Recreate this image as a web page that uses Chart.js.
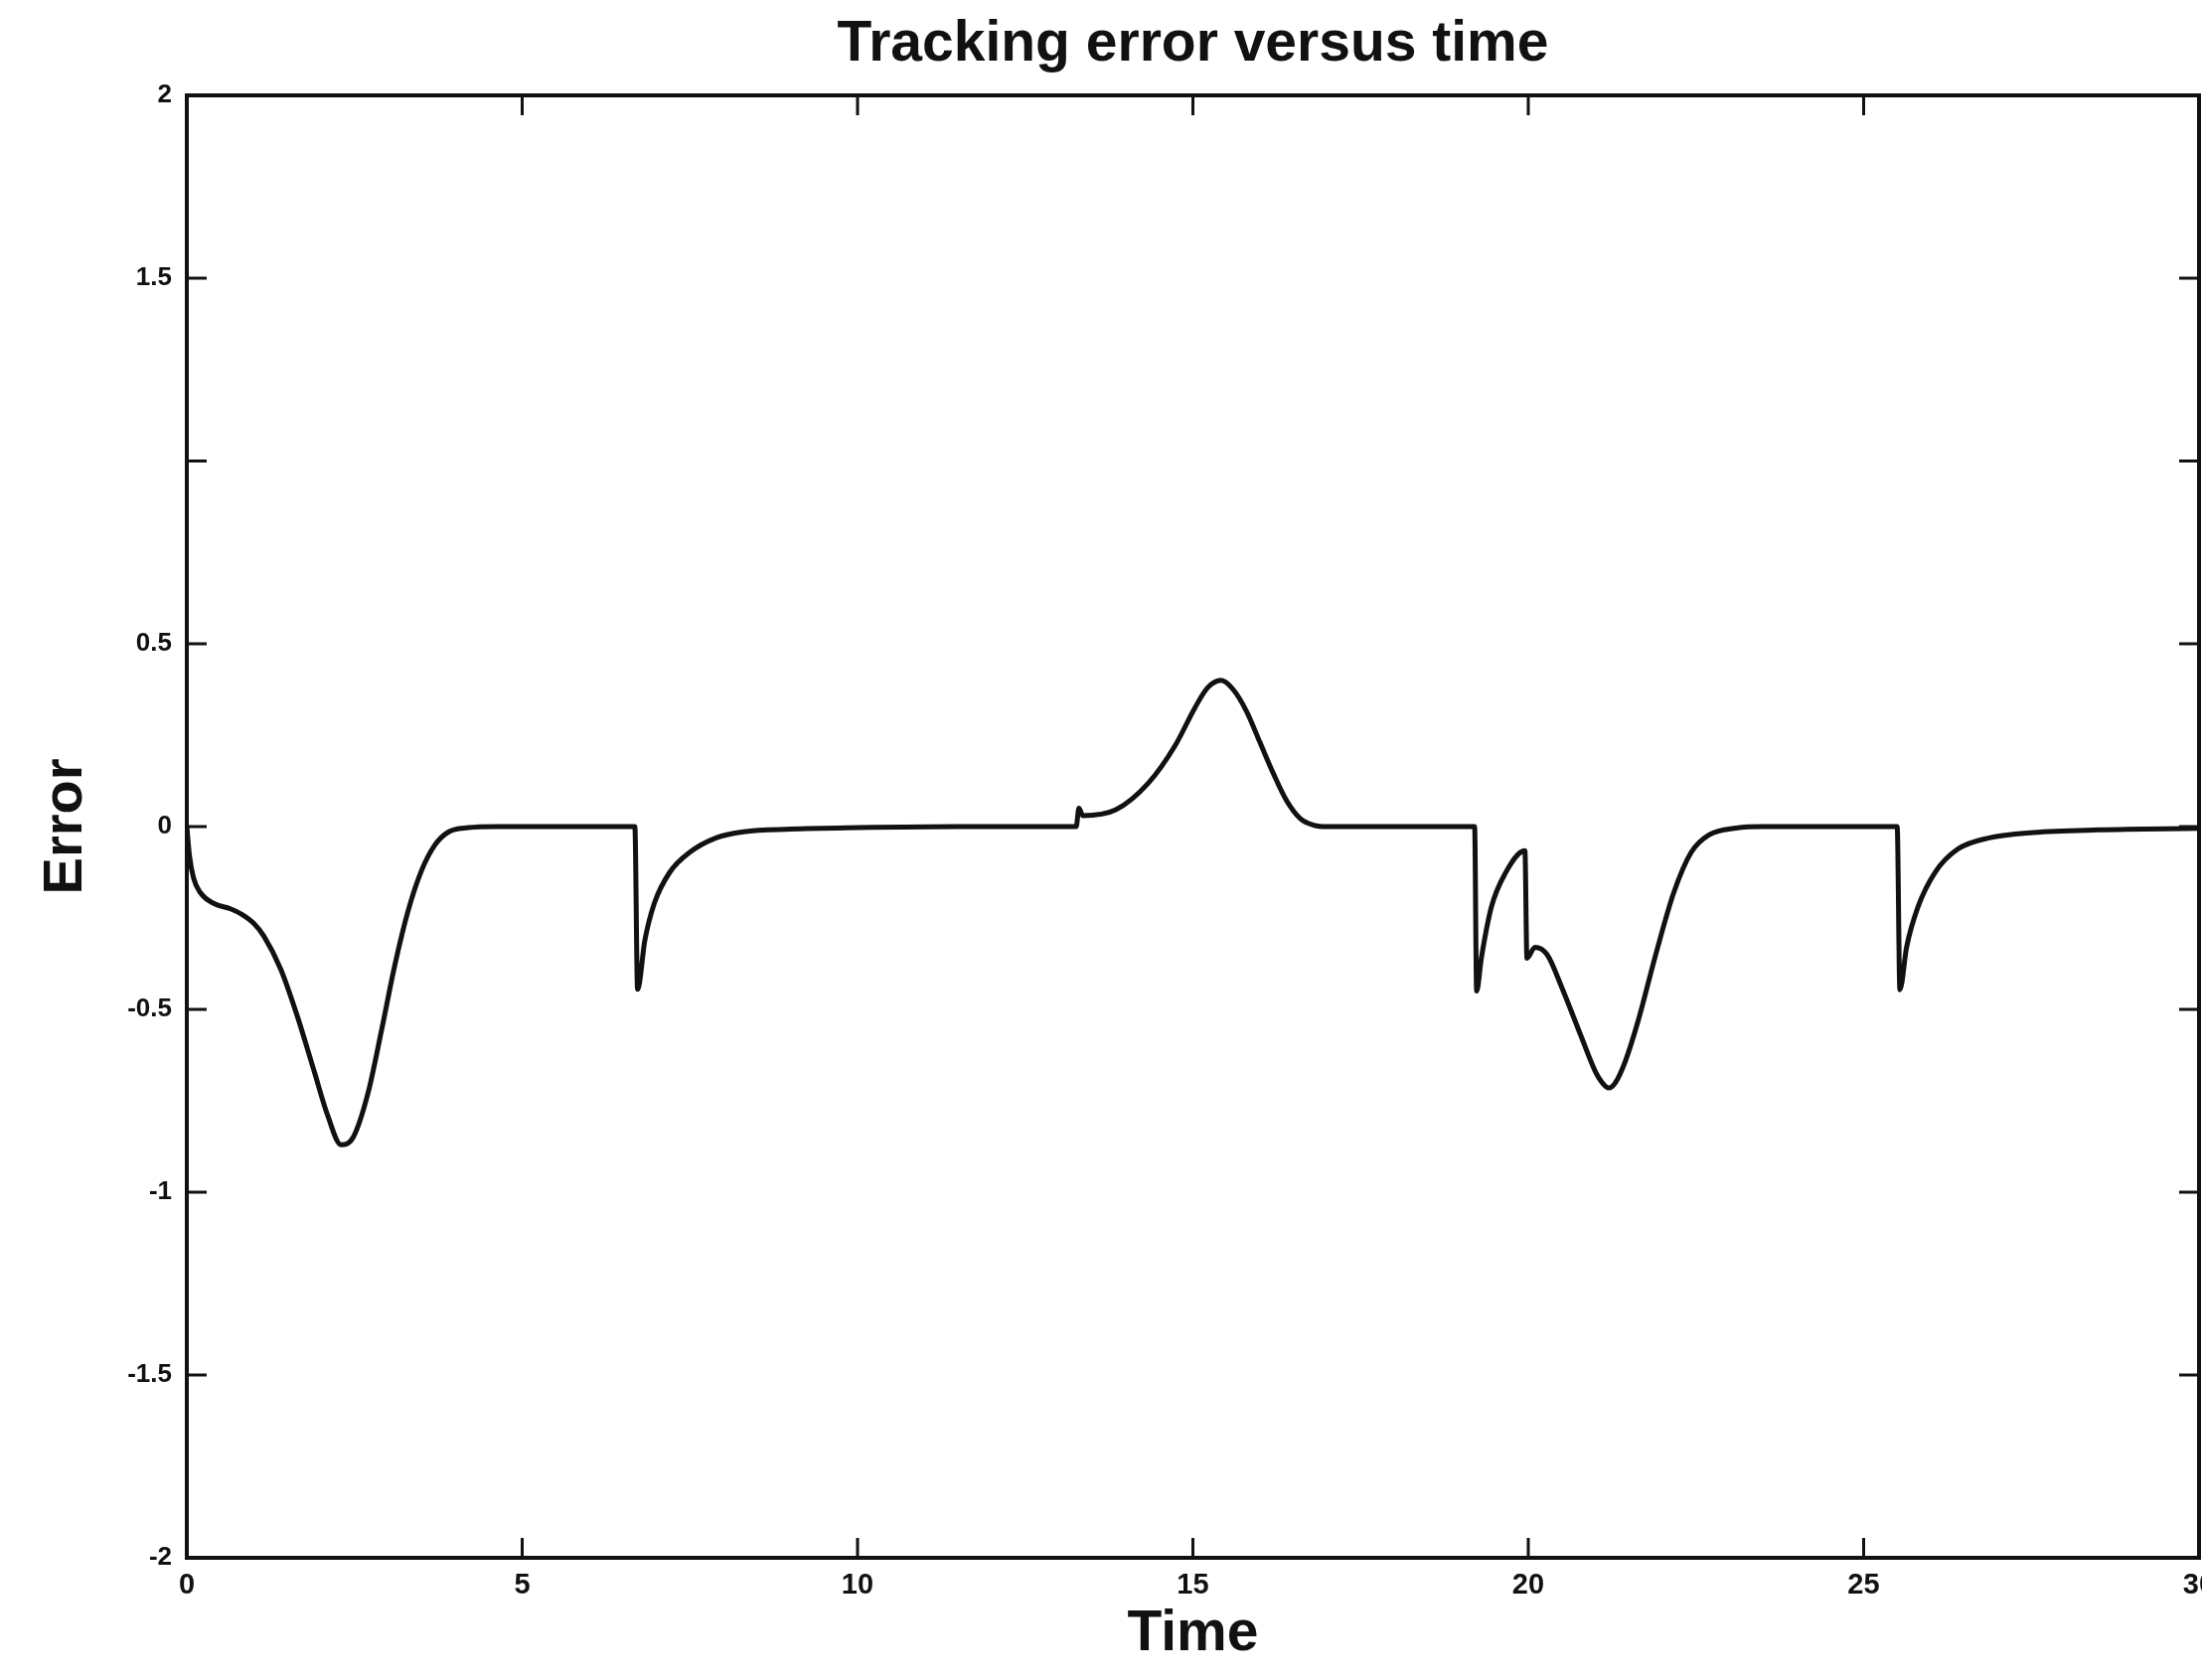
<!DOCTYPE html>
<html>
<head>
<meta charset="utf-8">
<title>Tracking error versus time</title>
<script src="https://cdn.jsdelivr.net/npm/chart.js@4.4.0/dist/chart.umd.min.js"></script>
<style>
  html, body { margin: 0; padding: 0; background: #fff; }
  #chartWrap { width: 2216px; height: 1691px; }
</style>
</head>
<body>
<div id="chartWrap"><canvas id="errorChart" width="2216" height="1691"></canvas></div>
<script>
// Tracking error data
const timeValues = [
    0, 0.04, 0.1, 0.2, 0.4, 0.65, 0.82, 1.0, 1.15, 1.4, 1.65, 1.9, 2.1, 2.3, 2.48, 2.7, 2.9, 3.1, 3.3, 3.5, 3.7, 3.9, 4.2, 4.6,
    6.68, 6.72, 6.83, 6.97, 7.2, 7.5, 7.9, 8.3, 9.0, 10.0, 11.5,
    13.26, 13.3, 13.36, 13.85, 14.34, 14.73, 15.03, 15.22, 15.42, 15.6, 15.8, 16.0, 16.2, 16.4, 16.6, 16.8, 17.0,
    19.2, 19.23, 19.3, 19.45, 19.65, 19.95, 19.98, 20.1, 20.28, 20.5, 20.78, 21.0, 21.1, 21.2, 21.3, 21.45, 21.64, 21.9, 22.17, 22.43, 22.7, 23.1, 23.5,
    25.5, 25.54, 25.64, 25.81, 26.07, 26.4, 26.87, 27.53, 28.5, 30
];
const errorValues = [
    0, -0.08, -0.14, -0.18, -0.21, -0.225, -0.24, -0.265, -0.30, -0.39, -0.52, -0.67, -0.79, -0.87, -0.85, -0.73, -0.56, -0.38, -0.23, -0.12, -0.05, -0.015, -0.003, 0,
    0, -0.445, -0.31, -0.21, -0.125, -0.07, -0.03, -0.014, -0.007, -0.003, 0,
    0, 0.05, 0.03, 0.046, 0.12, 0.22, 0.325, 0.38, 0.40, 0.375, 0.315, 0.23, 0.145, 0.07, 0.022, 0.004, 0,
    0, -0.45, -0.36, -0.22, -0.13, -0.066, -0.36, -0.33, -0.35, -0.44, -0.57, -0.67, -0.70, -0.715, -0.70, -0.64, -0.53, -0.35, -0.18, -0.07, -0.022, -0.004, 0,
    0, -0.446, -0.33, -0.22, -0.124, -0.062, -0.031, -0.016, -0.009, -0.005
];
const xTickValues = [0, 5, 10, 15, 20, 25, 30];
const yTickValues = [-2, -1.5, -1, -0.5, 0, 0.5, 1, 1.5, 2];
const yTickLabels = ['-2', '-1.5', '-1', '-0.5', '0', '0.5', '', '1.5', '2'];

const FONT = '"Liberation Sans", Arial, Helvetica, sans-serif';
const INK = '#111';

// MATLAB style frame with ticks pointing inwards on all four sides
const inwardTicks = {
    id: 'inwardTicks',
    afterDraw(chart) {
        const ctx = chart.ctx;
        const a = chart.chartArea;
        const x = chart.scales.x;
        const y = chart.scales.y;
        ctx.save();
        ctx.strokeStyle = INK;
        ctx.lineWidth = 3;
        ctx.beginPath();
        xTickValues.forEach(v => {
            const px = x.getPixelForValue(v);
            ctx.moveTo(px, a.bottom);
            ctx.lineTo(px, a.bottom - 20);
            ctx.moveTo(px, a.top);
            ctx.lineTo(px, a.top + 20);
        });
        yTickValues.forEach(v => {
            const py = y.getPixelForValue(v);
            ctx.moveTo(a.left, py);
            ctx.lineTo(a.left + 20, py);
            ctx.moveTo(a.right, py);
            ctx.lineTo(a.right - 20, py);
        });
        ctx.stroke();
        ctx.lineWidth = 4;
        ctx.strokeRect(a.left, a.top, a.right - a.left, a.bottom - a.top);
        ctx.restore();
    }
};

document.addEventListener('DOMContentLoaded', function() {
    const ctx = document.getElementById('errorChart');
    const points = timeValues.map((t, i) => ({ x: t, y: errorValues[i] }));

    new Chart(ctx, {
        type: 'line',
        data: {
            datasets: [{
                label: 'Error',
                data: points,
                borderColor: INK,
                borderWidth: 5,
                pointRadius: 0,
                fill: false,
                cubicInterpolationMode: 'monotone'
            }]
        },
        options: {
            responsive: false,
            devicePixelRatio: 1,
            animation: false,
            layout: { padding: { left: 0, right: 3, top: 0, bottom: 0 } },
            plugins: {
                legend: { display: false },
                tooltip: { enabled: false },
                title: {
                    display: true,
                    fullSize: false,
                    text: 'Tracking error versus time',
                    color: INK,
                    font: { family: FONT, size: 57, weight: 'bold', lineHeight: 1.2 },
                    padding: { top: 11, bottom: 16.6 }
                }
            },
            scales: {
                x: {
                    type: 'linear',
                    min: 0,
                    max: 30,
                    afterBuildTicks: scale => { scale.ticks = xTickValues.map(v => ({ value: v })); },
                    afterFit: scale => {
                        scale.height = 123;
                        scale.paddingLeft = 0;
                        scale.paddingRight = 0;
                    },
                    grid: { display: false, drawTicks: false },
                    border: { display: false },
                    ticks: {
                        color: INK,
                        padding: 11,
                        maxRotation: 0,
                        autoSkip: false,
                        font: { family: FONT, size: 29, weight: 'bold' }
                    },
                    title: {
                        display: true,
                        text: 'Time',
                        color: INK,
                        font: { family: FONT, size: 57, weight: 'bold', lineHeight: 1.2 },
                        padding: { top: 0, bottom: 12 }
                    }
                },
                y: {
                    type: 'linear',
                    min: -2,
                    max: 2,
                    afterBuildTicks: scale => { scale.ticks = yTickValues.map(v => ({ value: v })); },
                    afterFit: scale => { scale.width = 188; },
                    grid: { display: false, drawTicks: false },
                    border: { display: false },
                    ticks: {
                        color: INK,
                        padding: 15,
                        autoSkip: false,
                        font: { family: FONT, size: 26, weight: 'bold' },
                        callback: (value, index) => yTickLabels[index]
                    },
                    title: {
                        display: true,
                        text: 'Error',
                        color: INK,
                        font: { family: FONT, size: 56, weight: 'bold', lineHeight: 1.2 },
                        padding: { top: 33, bottom: 0 }
                    }
                }
            }
        },
        plugins: [inwardTicks]
    });
});
</script>
</body>
</html>
